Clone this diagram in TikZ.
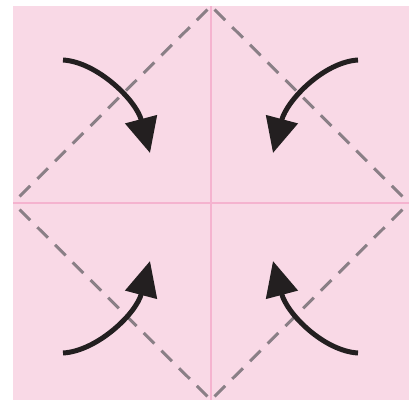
\documentclass[tikz,border=0pt]{standalone}
\usetikzlibrary{arrows.meta}
\definecolor{bgpink}{HTML}{F9D9E6}
\definecolor{linepink}{HTML}{F5B3CF}
\definecolor{dashgray}{HTML}{8A7F86}
\definecolor{arrowblack}{HTML}{231F20}
\tikzset{
  foldline/.style={draw=dashgray,line width=3pt,dash pattern=on 15pt off 10pt,dash phase=20pt},
  creaseline/.style={draw=linepink,line width=2.5pt},
  bigarrow/.style={draw=arrowblack,line width=5pt,-{Triangle[length=35pt,width=32pt]}}
}
\begin{document}
\begin{tikzpicture}[x=1pt,y=-1pt]
\useasboundingbox (0,0) rectangle (415,400);
\fill[bgpink] (13,6) rectangle (409,400);
\coordinate (T) at (211,6);
\coordinate (B) at (211,400);
\coordinate (L) at (13,203);
\coordinate (R) at (409,203);
\draw[creaseline] (T) -- (B);
\draw[creaseline] (L) -- (R);
\draw[foldline] (T) -- (R);
\draw[foldline] (T) -- (L);
\draw[foldline] (B) -- (L);
\draw[foldline] (B) -- (R);
\coordinate (s1) at (63,60);
\coordinate (e1) at (150,153);
\coordinate (s2) at (358,60);
\coordinate (e2) at (273,153);
\coordinate (s3) at (63,353);
\coordinate (e3) at (150,261);
\coordinate (s4) at (358,353);
\coordinate (e4) at (273,261);
\draw[bigarrow] (s1) .. controls (97,62) and (136,100) .. (e1);
\draw[bigarrow] (s2) .. controls (324,62) and (287,100) .. (e2);
\draw[bigarrow] (s3) .. controls (97,351) and (136,314) .. (e3);
\draw[bigarrow] (s4) .. controls (324,351) and (287,314) .. (e4);
\end{tikzpicture}
\end{document}
